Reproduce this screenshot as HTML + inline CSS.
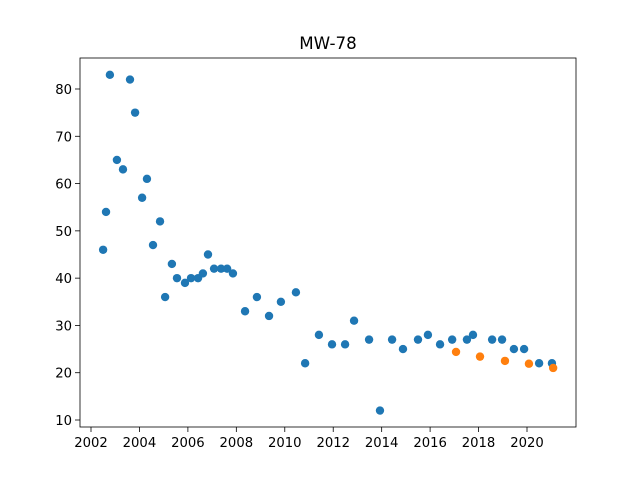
<!DOCTYPE html>
<html><head><meta charset="utf-8"><style>
body{margin:0;background:#fff;}
svg text{font-family:"DejaVu Sans","Liberation Sans",sans-serif;}
</style></head><body>
<svg id="chart" width="640" height="480" xmlns="http://www.w3.org/2000/svg">
<rect width="640" height="480" fill="#fff"/>
<text x="328" y="49" font-size="16.7" text-anchor="middle">MW-78</text>
<g id="ticks"></g>
<g id="marks"></g>
<rect x="80" y="58" width="496" height="369" fill="none" stroke="#000" stroke-width="0.8"/>
</svg>
<script>
const blueYears=[2002.50,2002.62,2002.78,2003.07,2003.32,2003.61,2003.82,2004.11,2004.31,2004.56,2004.85,2005.06,2005.34,2005.55,2005.88,2006.13,2006.42,2006.62,2006.83,2007.08,2007.37,2007.62,2007.86,2008.36,2008.85,2009.35,2009.84,2010.46,2010.84,2011.41,2011.95,2012.49,2012.86,2013.48,2013.93,2014.43,2014.88,2015.50,2015.91,2016.41,2016.91,2017.52,2017.77,2018.56,2018.97,2019.46,2019.88,2020.50,2021.03];
const blueValues=[46,54,83,65,63,82,75,57,61,47,52,36,43,40,39,40,40,41,45,42,42,42,41,33,36,32,35,37,22,28,26,26,31,27,12,27,25,27,28,26,27,27,28,27,27,25,25,22,22];
const orangeYears=[2017.07,2018.06,2019.09,2020.08,2021.08];
const orangeValues=[24.4,23.4,22.5,21.9,21.0];
const xTicks=[2002,2004,2006,2008,2010,2012,2014,2016,2018,2020];
const yTicks=[10,20,30,40,50,60,70,80];
const NS="http://www.w3.org/2000/svg";
function xs(v){return 91+(v-2002)*(436/18);}
function ys(v){return 420-(v-10)*(331/70);}
const tg=document.getElementById('ticks');
function mk(tag,attrs,parent){const e=document.createElementNS(NS,tag);for(const k in attrs)e.setAttribute(k,attrs[k]);parent.appendChild(e);return e;}
xTicks.forEach(t=>{
  const x=xs(t);
  const l=mk('line',{x1:x,x2:x,y1:427,y2:432,stroke:'#000','stroke-width':0.8},tg);
  
  
  const tx=mk('text',{x:x,y:447,'font-size':13.2,'text-anchor':'middle'},tg);
  tx.textContent=t;
  
  
});
yTicks.forEach(t=>{
  const y=ys(t);
  const l=mk('line',{x1:75,x2:80,y1:y,y2:y,stroke:'#000','stroke-width':0.8},tg);
  
  
  const tx=mk('text',{x:72,y:y+5,'font-size':13.2,'text-anchor':'end'},tg);
  tx.textContent=t;
  
  
});
const mg=document.getElementById('marks');
blueYears.forEach((yr,i)=>{
  const c=mk('circle',{cx:xs(yr),cy:ys(blueValues[i]),r:4.2,fill:'#1f77b4'},mg);
  
  
});
orangeYears.forEach((yr,i)=>{
  const c=mk('circle',{cx:xs(yr),cy:ys(orangeValues[i]),r:4.2,fill:'#ff7f0e'},mg);
  
  
});
</script>
</body></html>
